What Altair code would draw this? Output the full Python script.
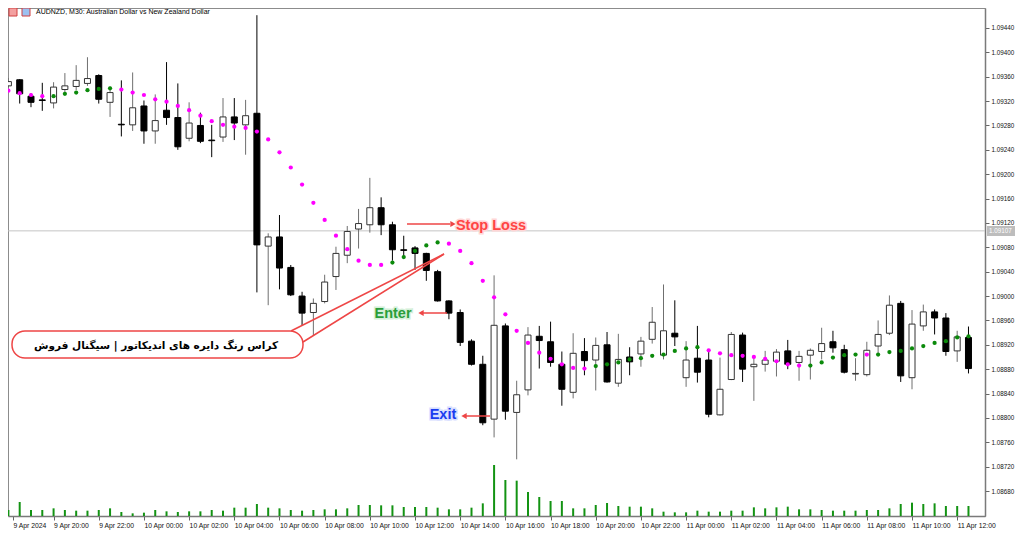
import altair as alt
import pandas as pd

# ---------------- data ----------------
opens = [1.09345, 1.09355, 1.09328, 1.09322, 1.09317, 1.09339, 1.09344, 1.09349, 1.09362, 1.09318,
         1.09282, 1.09281, 1.09312, 1.09271, 1.09305, 1.09293, 1.09259, 1.09280, 1.09256, 1.09261,
         1.09294, 1.09281, 1.09300, 1.09082, 1.09097, 1.09047, 1.09000, 1.08973, 1.08991, 1.09032,
         1.09067, 1.09110, 1.09117, 1.09145, 1.09117, 1.09076, 1.09079, 1.09070, 1.09040, 1.08992,
         1.08973, 1.08926, 1.08888, 1.08798, 1.08951, 1.08809, 1.08846, 1.08934, 1.08925, 1.08888,
         1.08842, 1.08909, 1.08895, 1.08920, 1.08857, 1.08900, 1.08905, 1.08929, 1.08903, 1.08939,
         1.08866, 1.08898, 1.08895, 1.08805, 1.08863, 1.08936, 1.08884, 1.08888, 1.08893, 1.08910,
         1.08891, 1.08903, 1.08909, 1.08925, 1.08912, 1.08872, 1.08871, 1.08918, 1.08939, 1.08988,
         1.08866, 1.08951, 1.08974, 1.08964, 1.08910, 1.08932]
highs = [1.09358, 1.09356, 1.09333, 1.09350, 1.09351, 1.09366, 1.09379, 1.09392, 1.09364, 1.09344,
         1.09354, 1.09367, 1.09321, 1.09331, 1.09384, 1.09349, 1.09318, 1.09301, 1.09281, 1.09325,
         1.09325, 1.09322, 1.09461, 1.09103, 1.09133, 1.09051, 1.09007, 1.08996, 1.09035, 1.09081,
         1.09115, 1.09143, 1.09194, 1.09162, 1.09122, 1.09099, 1.09082, 1.09071, 1.09043, 1.08993,
         1.08978, 1.08929, 1.08902, 1.09034, 1.08955, 1.08861, 1.08949, 1.08951, 1.08958, 1.08909,
         1.08939, 1.08931, 1.08932, 1.08941, 1.08938, 1.08916, 1.08933, 1.08982, 1.09019, 1.08993,
         1.08926, 1.08951, 1.08909, 1.08899, 1.08941, 1.08940, 1.08899, 1.08910, 1.08913, 1.08928,
         1.08910, 1.08914, 1.08948, 1.08943, 1.08920, 1.08898, 1.08925, 1.08960, 1.09001, 1.08992,
         1.08977, 1.08986, 1.08978, 1.08972, 1.08943, 1.08950]
lows = [1.09342, 1.09316, 1.09310, 1.09304, 1.09308, 1.09333, 1.09338, 1.09345, 1.09316, 1.09294,
        1.09262, 1.09271, 1.09250, 1.09250, 1.09281, 1.09240, 1.09254, 1.09251, 1.09228, 1.09253,
        1.09256, 1.09232, 1.09006, 1.08985, 1.09011, 1.09000, 1.08952, 1.08936, 1.08988, 1.09010,
        1.09054, 1.09078, 1.09104, 1.09100, 1.09058, 1.09062, 1.09043, 1.09025, 1.08991, 1.08962,
        1.08918, 1.08886, 1.08788, 1.08768, 1.08797, 1.08732, 1.08837, 1.08881, 1.08884, 1.08820,
        1.08832, 1.08870, 1.08845, 1.08858, 1.08851, 1.08870, 1.08884, 1.08922, 1.08896, 1.08918,
        1.08851, 1.08858, 1.08801, 1.08804, 1.08862, 1.08859, 1.08828, 1.08876, 1.08868, 1.08880,
        1.08861, 1.08863, 1.08896, 1.08907, 1.08873, 1.08861, 1.08868, 1.08905, 1.08936, 1.08859,
        1.08847, 1.08943, 1.08937, 1.08902, 1.08892, 1.08873]
closes = [1.09352, 1.09332, 1.09318, 1.09321, 1.09343, 1.09345, 1.09354, 1.09357, 1.09323, 1.09334,
          1.09281, 1.09309, 1.09271, 1.09288, 1.09293, 1.09245, 1.09284, 1.09254, 1.09255, 1.09294,
          1.09284, 1.09296, 1.09084, 1.09097, 1.09046, 1.09002, 1.08972, 1.08988, 1.09023, 1.09070,
          1.09106, 1.09119, 1.09145, 1.09117, 1.09076, 1.09075, 1.09070, 1.09042, 1.08992, 1.08972,
          1.08924, 1.08888, 1.08792, 1.08952, 1.08811, 1.08838, 1.08936, 1.08927, 1.08891, 1.08847,
          1.08906, 1.08894, 1.08919, 1.08859, 1.08896, 1.08892, 1.08926, 1.08957, 1.08943, 1.08933,
          1.08895, 1.08875, 1.08806, 1.08847, 1.08937, 1.08880, 1.08888, 1.08895, 1.08908, 1.08888,
          1.08901, 1.08911, 1.08922, 1.08915, 1.08875, 1.08873, 1.08911, 1.08937, 1.08985, 1.08869,
          1.08954, 1.08974, 1.08964, 1.08909, 1.08933, 1.08881]
sar = [1.09337, 1.09333, 1.09330, 1.09328, 1.09328, 1.09332, 1.09334, 1.09338, 1.09340, 1.09341,
       1.09339, 1.09334, 1.09330, 1.09323, 1.09319, 1.09312, 1.09305, 1.09296, 1.09287, 1.09281,
       1.09278, 1.09276, 1.09270, 1.09257, 1.09236, 1.09211, 1.09183, 1.09153, 1.09125, 1.09099,
       1.09077, 1.09058, 1.09051, 1.09051, 1.09055, 1.09064, 1.09074, 1.09083, 1.09088, 1.09086,
       1.09074, 1.09054, 1.09025, 1.08998, 1.08970, 1.08943, 1.08923, 1.08907, 1.08897, 1.08888,
       1.08882, 1.08881, 1.08885, 1.08888, 1.08891, 1.08896, 1.08898, 1.08902, 1.08904, 1.08910,
       1.08914, 1.08916, 1.08911, 1.08906, 1.08903, 1.08902, 1.08900, 1.08897, 1.08893, 1.08888,
       1.08886, 1.08886, 1.08891, 1.08899, 1.08903, 1.08904, 1.08904, 1.08904, 1.08908, 1.08910,
       1.08914, 1.08918, 1.08923, 1.08926, 1.08932, 1.08934]
sar_side = ["m", "m", "m", "m", "g", "g", "g", "g", "g", "g",
            "m", "m", "m", "m", "m", "m", "m", "m", "m", "m",
            "m", "m", "m", "m", "m", "m", "m", "m", "m", "m",
            "m", "m", "m", "m", "g", "g", "g", "g", "g", "m",
            "m", "m", "m", "m", "m", "m", "m", "m", "m", "m",
            "m", "m", "g", "g", "g", "g", "g", "g", "g", "g",
            "g", "g", "m", "m", "m", "m", "m", "m", "m", "m",
            "m", "g", "g", "g", "g", "g", "m", "g", "g", "g",
            "g", "g", "g", "g", "g", "g"]
volumes = [180, 420, 180, 180, 230, 180, 160, 160, 180, 230,
           120, 80, 100, 180, 140, 120, 140, 140, 180, 160,
           250, 250, 360, 250, 230, 180, 160, 180, 200, 200,
           230, 330, 330, 320, 320, 270, 270, 270, 250, 200,
           200, 250, 380, 1530, 1080, 1060, 720, 570, 450, 450,
           230, 230, 330, 390, 300, 280, 280, 230, 130, 110,
           110, 160, 130, 130, 160, 160, 260, 230, 260, 280,
           200, 200, 180, 160, 160, 160, 180, 180, 230, 360,
           400, 360, 380, 300, 300, 300]
price_ticks = [1.08680, 1.08720, 1.08760, 1.08800, 1.08840, 1.08880, 1.08920, 1.08960, 1.09000, 1.09040,
               1.09080, 1.09120, 1.09160, 1.09200, 1.09240, 1.09280, 1.09320, 1.09360, 1.09400, 1.09440]
time_ticks = [0, 4, 8, 12, 16, 20, 24, 28, 32, 36, 40, 44, 48, 52, 56, 60, 64, 68, 72, 76, 80, 84]
time_labels = ["9 Apr 2024", "9 Apr 20:00", "9 Apr 22:00", "10 Apr 00:00", "10 Apr 02:00", "10 Apr 04:00",
               "10 Apr 06:00", "10 Apr 08:00", "10 Apr 10:00", "10 Apr 12:00", "10 Apr 14:00", "10 Apr 16:00",
               "10 Apr 18:00", "10 Apr 20:00", "10 Apr 22:00", "11 Apr 00:00", "11 Apr 02:00", "11 Apr 04:00",
               "11 Apr 06:00", "11 Apr 08:00", "11 Apr 10:00", "11 Apr 12:00"]
current_price = 1.09107
header = "AUDNZD, M30:  Australian Dollar vs New Zealand Dollar"
callout = "کراس رنگ دایره های اندیکاتور  |  سیگنال فروش"

# ---------------- layout ----------------
W, H = 977, 508
X_DOMAIN = [0.407, 86.02]
Y_DOMAIN = [1.08639, 1.094728]
VOL_MAX = 15240

df = pd.DataFrame({"i": list(range(len(opens))), "open": opens, "high": highs, "low": lows,
                   "close": closes, "sar": sar, "side": sar_side, "vol": volumes})
df["up"] = df["close"] >= df["open"]

tick_pos = [X_DOMAIN[0] if t == 0 else t for t in time_ticks]
label_js = "[" + ",".join("'" + s + "'" for s in time_labels) + "]"
xscale = alt.Scale(domain=X_DOMAIN, nice=False, zero=False)
xaxis = alt.Axis(values=tick_pos, labelExpr=label_js + "[round(datum.value / 4)]",
                 title=None, grid=False, labelAlign="left", labelBaseline="top", labelPadding=2,
                 labelFlush=False, labelOverlap=False, labelBound=False, tickSize=4,
                 labelFont="Liberation Sans", labelFontSize=6.8, labelColor="#111",
                 tickColor="#666", domainColor="#7a7a7a", domainWidth=1.5)
X = alt.X("i:Q", scale=xscale, axis=xaxis)
yscale = alt.Scale(domain=Y_DOMAIN, nice=False, zero=False)
yaxis = alt.Axis(orient="right", values=price_ticks, format=".5f", title=None, grid=False,
                 tickSize=4, labelPadding=2, labelFont="Liberation Sans", labelFontSize=6.3,
                 labelColor="#111", tickColor="#666", domainColor="#7a7a7a", domainWidth=1.5,
                 labelOverlap=False, labelFlush=False)

base = alt.Chart(df)

volume = base.mark_bar(size=2, color="#139313", clip=True).encode(
    x=X, y=alt.Y("vol:Q", scale=alt.Scale(domain=[0, VOL_MAX], nice=False), axis=None))

hline = alt.Chart(pd.DataFrame({"p": [current_price]})).mark_rule(color="#c4c4c4", strokeWidth=1).encode(
    y=alt.Y("p:Q", scale=yscale, axis=yaxis))

wicks = base.mark_rule(strokeWidth=1, clip=True).encode(
    x=X, y=alt.Y("low:Q", scale=yscale, axis=yaxis), y2="high:Q",
    color=alt.condition(alt.datum.up, alt.value("#6f6f6f"), alt.value("#000000")))

bodies = base.mark_bar(size=6, strokeWidth=1, clip=True).encode(
    x=X, y=alt.Y("open:Q", scale=yscale, axis=yaxis), y2="close:Q",
    fill=alt.condition(alt.datum.up, alt.value("#ffffff"), alt.value("#000000")),
    stroke=alt.condition(alt.datum.up, alt.value("#333333"), alt.value("#000000")))

dots = base.mark_circle(size=18, opacity=1, clip=True).encode(
    x=X, y=alt.Y("sar:Q", scale=yscale, axis=yaxis),
    color=alt.Color("side:N", scale=alt.Scale(domain=["m", "g"], range=["#ff00ff", "#0b8a0b"]), legend=None))

one = pd.DataFrame({"k": [0]})
RED = "#ee4646"


def rule(x1, y1, x2, y2, color=RED, w=1.5):
    return alt.Chart(one).mark_rule(color=color, strokeWidth=w).encode(
        x=alt.value(x1), y=alt.value(y1), x2=alt.value(x2), y2=alt.value(y2))


def head(x, y, shape):
    return alt.Chart(one).mark_point(shape=shape, filled=True, size=38, color=RED, opacity=1).encode(
        x=alt.value(x), y=alt.value(y))


def label(text, x, y, color, halo, size=14.5):
    d = pd.DataFrame({"t": [text]})
    back = alt.Chart(d).mark_text(fontSize=size, fontWeight="bold", font="Liberation Sans",
                                  stroke=halo, strokeWidth=3, color=halo).encode(
        x=alt.value(x), y=alt.value(y), text="t:N")
    front = alt.Chart(d).mark_text(fontSize=size, fontWeight="bold", font="Liberation Sans",
                                   color=color).encode(x=alt.value(x), y=alt.value(y), text="t:N")
    return back + front


tail = rule(283, 323, 436, 246) + rule(295, 334, 436, 246)
bubble = alt.Chart(one).mark_rect(cornerRadius=13, fill="#ffffff", stroke=RED, strokeWidth=1.5).encode(
    x=alt.value(4), x2=alt.value(295), y=alt.value(323), y2=alt.value(350))
bubble_text = alt.Chart(pd.DataFrame({"t": [callout]})).mark_text(
    fontSize=10.5, fontWeight="bold", font="DejaVu Sans", color="#000").encode(
    x=alt.value(148), y=alt.value(338), text="t:N")

stop = rule(399, 216, 442, 216) + head(445, 216, "triangle-right") + label("Stop Loss", 483, 218, "#ff4444", "#ffd6d6")
enter = rule(412, 305, 439, 305) + head(413, 305, "triangle-left") + label("Enter", 385, 306, "#2a9e3a", "#d4efd8")
exit_ = rule(455, 408, 482, 408) + head(456, 408, "triangle-left") + label("Exit", 435, 407, "#1a3cf0", "#d6ddff")

price_tag = alt.Chart(one).mark_rect(color="#bdbdbd").encode(
    x=alt.value(979), x2=alt.value(1007), y=alt.value(218), y2=alt.value(228))
price_tag_text = alt.Chart(pd.DataFrame({"t": ["%.5f" % current_price]})).mark_text(
    fontSize=6.3, font="Liberation Sans", color="#ffffff", align="left").encode(
    x=alt.value(981), y=alt.value(223), text="t:N")

head_text = alt.Chart(pd.DataFrame({"t": [header]})).mark_text(
    fontSize=7.0, font="Liberation Sans", color="#000", align="left", baseline="middle").encode(
    x=alt.value(28), y=alt.value(4), text="t:N")
icon1 = alt.Chart(one).mark_rect(fill="#f3a0a0", stroke="#d04040", strokeWidth=1).encode(
    x=alt.value(1), x2=alt.value(9), y=alt.value(0), y2=alt.value(8))
icon2 = alt.Chart(one).mark_rect(fill="#9cc0f0", stroke="#d04040", strokeWidth=1).encode(
    x=alt.value(14), x2=alt.value(22), y=alt.value(0), y2=alt.value(8))

price_group = alt.layer(hline, wicks, bodies, dots, tail, bubble, bubble_text,
                        stop, enter, exit_, price_tag, price_tag_text, head_text, icon1, icon2)

chart = alt.layer(volume, price_group).resolve_scale(y="independent").properties(
    width=W, height=H,
    padding={"left": 0, "top": 0, "right": 31, "bottom": 17},
    autosize=alt.AutoSizeParams(type="none"),
    background="#ffffff",
).configure_view(stroke="#8c8c8c", strokeWidth=1)

chart.save("out.html", embed_options={"renderer": "svg", "actions": False})
